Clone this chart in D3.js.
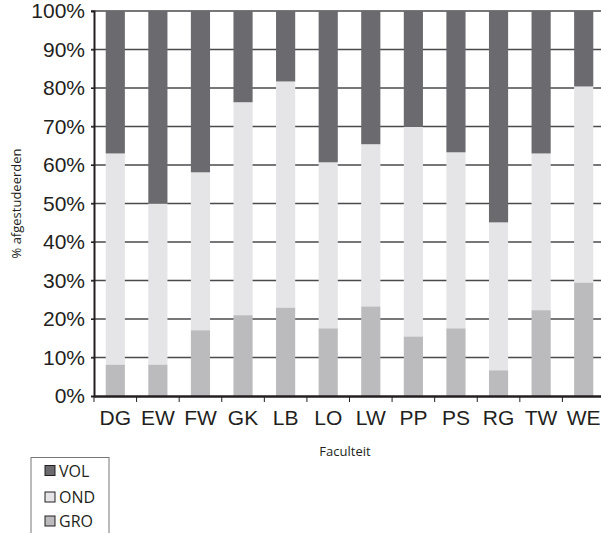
<!DOCTYPE html>
<html lang="nl">
<head>
  <meta charset="UTF-8">
  <title>Afgestudeerden per faculteit</title>
  <script src="https://d3js.org/d3.v7.min.js"></script>
  <style>
    body { margin: 0; background: #fff; }
    svg { display: block; font-family: "Open Sans", "DejaVu Sans", sans-serif; }
    .tick-label { font-size: 21px; fill: #231f20; }
    .axis-title { font-size: 13px; fill: #231f20; }
  </style>
</head>
<body>
  <svg width="601" height="533"></svg>

  <script>
    // faculteiten
    const faculties = ["DG", "EW", "FW", "GK", "LB", "LO", "LW", "PP", "PS", "RG", "TW", "WE"];
    // percentages per groep (onder naar boven: GRO, OND, VOL)
    const gro = [8.2, 8.2, 17.1, 21.0, 23.0, 17.6, 23.3, 15.5, 17.6, 6.7, 22.3, 29.5];
    const ond = [54.8, 41.8, 41.0, 55.3, 58.7, 43.1, 42.1, 54.4, 45.7, 38.4, 40.7, 50.9];
    const vol = [37.0, 50.0, 41.9, 23.7, 18.3, 39.3, 34.6, 30.1, 36.7, 54.9, 37.0, 19.6];
    const yTicks = [0, 10, 20, 30, 40, 50, 60, 70, 80, 90, 100];
    const legendItems = ["VOL", "OND", "GRO"];

    const colors = { GRO: "#bbbbbe", OND: "#e5e5e7", VOL: "#6b6b6f" };

    const svg = d3.select("svg");
    const margin = { left: 94, top: 11, right: 605, bottom: 396 };

    const x = d3.scaleBand()
      .domain(faculties)
      .range([margin.left, margin.right])
      .paddingInner(0.55)
      .paddingOuter(0.275);

    const y = d3.scaleLinear()
      .domain([0, 100])
      .range([margin.bottom, margin.top]);

    // gridlijnen
    svg.append("g")
      .selectAll("line")
      .data(yTicks.filter(d => d > 0))
      .enter().append("line")
      .attr("x1", margin.left - 3)
      .attr("x2", 601)
      .attr("y1", d => y(d))
      .attr("y2", d => y(d))
      .attr("stroke", "#4a4a4c")
      .attr("stroke-width", 1.5);

    // gestapelde data
    const rows = faculties.map((f, i) => ({ fac: f, GRO: gro[i], OND: ond[i], VOL: vol[i] }));
    const series = d3.stack().keys(["GRO", "OND", "VOL"])(rows);

    svg.append("g")
      .selectAll("g")
      .data(series)
      .enter().append("g")
      .attr("fill", d => colors[d.key])
      .selectAll("rect")
      .data(d => d)
      .enter().append("rect")
      .attr("x", d => x(d.data.fac))
      .attr("width", x.bandwidth())
      .attr("y", d => y(Math.min(d[1], 100)))
      .attr("height", d => y(d[0]) - y(Math.min(d[1], 100)));

    // assen
    const yAxis = svg.append("g")
      .attr("transform", `translate(${margin.left},0)`)
      .call(d3.axisLeft(y).tickValues(yTicks).tickFormat(d => d + "%").tickSize(3).tickPadding(6));
    yAxis.select(".domain").attr("stroke", "#231f20").attr("stroke-width", 2);
    yAxis.selectAll(".tick line").attr("stroke", "#231f20");
    yAxis.selectAll(".tick text").attr("class", "tick-label");

    const xAxis = svg.append("g")
      .attr("transform", `translate(0,${margin.bottom})`)
      .call(d3.axisBottom(x).tickSize(0).tickPadding(14));
    xAxis.select(".domain").attr("stroke", "#231f20").attr("stroke-width", 2.5);
    xAxis.selectAll(".tick text").attr("class", "tick-label");

    // categorie-scheidingsstreepjes onder de as
    const step = x.step();
    svg.append("g")
      .selectAll("line")
      .data(d3.range(faculties.length))
      .enter().append("line")
      .attr("x1", i => margin.left + i * step)
      .attr("x2", i => margin.left + i * step)
      .attr("y1", margin.bottom)
      .attr("y2", margin.bottom + 6)
      .attr("stroke", "#231f20")
      .attr("stroke-width", 1);

    // astitels
    svg.append("text")
      .attr("class", "axis-title")
      .attr("transform", `translate(21,${(margin.top + margin.bottom) / 2}) rotate(-90)`)
      .attr("text-anchor", "middle")
      .text("% afgestudeerden");

    svg.append("text")
      .attr("class", "axis-title")
      .attr("x", 345)
      .attr("y", 456)
      .attr("text-anchor", "middle")
      .text("Faculteit");

    // legenda
    const legend = svg.append("g").attr("transform", "translate(31,457.5)");
    legend.append("rect")
      .attr("width", 78)
      .attr("height", 90)
      .attr("fill", "#fff")
      .attr("stroke", "#777")
      .attr("stroke-width", 1);

    const item = legend.selectAll(".item")
      .data(legendItems)
      .enter().append("g")
      .attr("transform", (d, i) => `translate(14,${[8, 34.5, 58.5][i]})`);
    item.append("rect")
      .attr("width", 10)
      .attr("height", 10)
      .attr("fill", d => colors[d])
      .attr("stroke", "#231f20")
      .attr("stroke-width", 1);
    item.append("text")
      .style("font-size", "16px")
      .style("fill", "#231f20")
      .attr("x", 14)
      .attr("y", 11)
      .text(d => d);
  </script>
</body>
</html>
